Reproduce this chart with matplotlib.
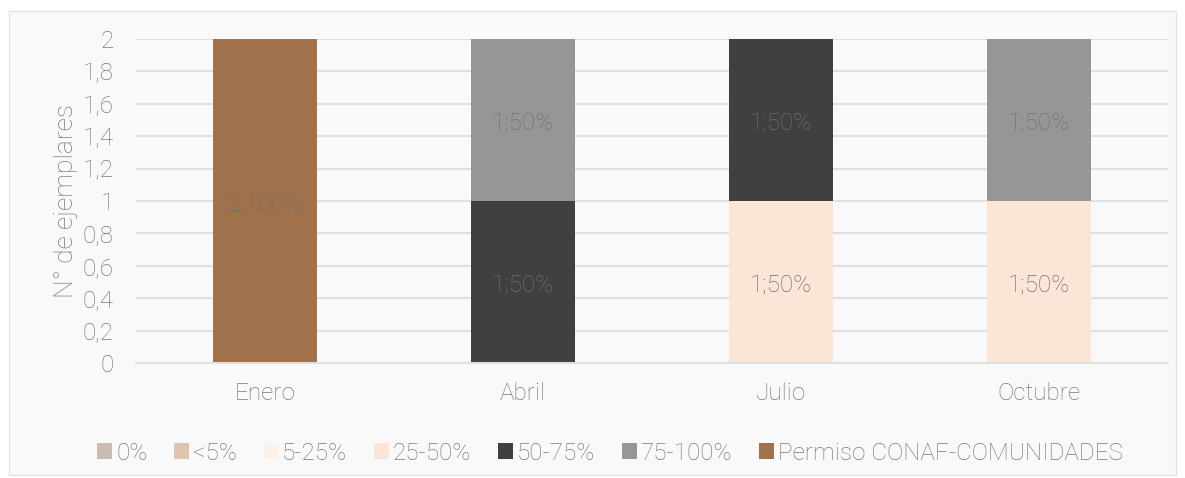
import numpy as np
import matplotlib.pyplot as plt
from matplotlib.patches import Rectangle

plt.rcParams['font.family'] = ['Roboto', 'DejaVu Sans']

meses = ['Enero', 'Abril', 'Julio', 'Octubre']
clases = ['0%', '<5%', '5-25%', '25-50%', '50-75%', '75-100%', 'Permiso CONAF-COMUNIDADES']
colores = ['#c9bdb3', '#dcc4ae', '#fdf0e6', '#fbe5d6', '#404040', '#969696', '#a0714a']

# ejemplares por clase de daño y mes
v_0 = [0, 0, 0, 0]
v_5 = [0, 0, 0, 0]
v_5_25 = [0, 0, 0, 0]
v_25_50 = [0, 0, 1, 1]
v_50_75 = [0, 1, 1, 0]
v_75_100 = [0, 1, 0, 1]
v_permiso = [2, 0, 0, 0]
series = [v_0, v_5, v_5_25, v_25_50, v_50_75, v_75_100, v_permiso]

gris = '#7a7a7a'
fs = 17.5
fig = plt.figure(figsize=(11.85, 4.78), dpi=100)
fig.patch.set_facecolor('white')
# marco gris claro del gráfico
fig.patches.append(Rectangle((0.008, 0.006), 0.984, 0.972, transform=fig.transFigure,
                             facecolor='#f9f9f9', edgecolor='#e3e3e3', lw=1, zorder=-1))
ax = fig.add_axes([136 / 1185, 1 - 363 / 478, (1168 - 136) / 1185, (363 - 39) / 478])
ax.set_facecolor('#f9f9f9')

x = np.arange(len(meses))
totales = np.array([sum(s[i] for s in series) for i in range(len(meses))])
base = np.zeros(len(meses))
for nombre, vals, col in zip(clases, series, colores):
    vals = np.array(vals, dtype=float)
    ax.bar(x, vals, 0.4, bottom=base, color=col, label=nombre, zorder=2)
    for i, v in enumerate(vals):
        if v > 0:
            pct = round(100 * v / totales[i])
            ax.text(x[i], base[i] + v / 2 - 0.02, f'{int(v)};{pct}%', ha='center', va='center',
                    fontsize=fs, color='#707070', fontweight='light', zorder=3)
    base += vals

ax.set_xlim(-0.5, 3.5)
ax.set_ylim(0, 2)
ax.set_yticks(np.arange(0, 2.01, 0.2))
ax.set_yticklabels(['0' if t == 0 else ('%g' % round(t, 1)).replace('.', ',') for t in np.arange(0, 2.01, 0.2)])
ax.set_xticks(x)
ax.set_xticklabels(meses)
ax.yaxis.grid(True, color='#e0e0e0', lw=1.5, zorder=0)
ax.set_axisbelow(True)
for s in ax.spines.values():
    s.set_visible(False)
ax.spines['bottom'].set_visible(True)
ax.spines['bottom'].set_color('#e0e0e0')
ax.spines['bottom'].set_linewidth(1.5)
ax.tick_params(length=0, labelsize=fs, labelcolor=gris)
ax.tick_params(axis='x', pad=14)
ax.tick_params(axis='y', pad=16)
for t in ax.get_xticklabels() + ax.get_yticklabels():
    t.set_fontweight('light')
ax.set_ylabel('N° de ejemplares', fontsize=19, color=gris, fontweight='light', labelpad=3)

leg = fig.legend(loc='center', bbox_to_anchor=(610 / 1185, 1 - 453 / 478), ncol=7,
                 frameon=False, fontsize=fs, handlelength=0.62, handleheight=0.62,
                 handletextpad=0.15, columnspacing=1.1)
for t in leg.get_texts():
    t.set_color(gris)
    t.set_fontweight('light')

fig.savefig('out.png', dpi=100, facecolor=fig.get_facecolor())
